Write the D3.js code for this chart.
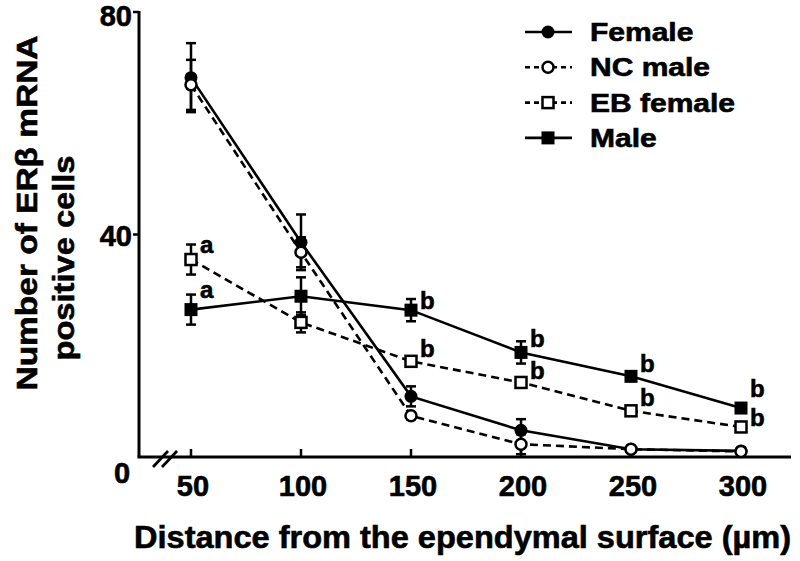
<!DOCTYPE html>
<html>
<head>
<meta charset="utf-8">
<script src="https://cdn.jsdelivr.net/npm/d3@7"></script>
<style>
  html, body { margin: 0; padding: 0; background: #fff; }
  svg { display: block; }
  text { font-family: "Liberation Sans", Arial, Helvetica, sans-serif; font-weight: bold; fill: #000; stroke: #000; stroke-width: 0.6px; }
</style>
</head>
<body>
<svg id="chart" width="800" height="561"></svg>
<script>
// ---- data ----
const distances = [50, 100, 150, 200, 250, 300];
const xTickLabels = ["50", "100", "150", "200", "250", "300"];
const yTicks = [0, 40, 80];

const femaleMean  = [68.2, 38.6, 10.9, 4.8, 1.4, 1.1];
const femaleErr   = [6.2, 5.0, 1.8, 2.0, 0.4, 0.4];
const ncMaleMean  = [66.9, 36.8, 7.4, 2.3, 1.4, 1.0];
const ncMaleErr   = [4.5, 2.7, 0.6, 1.8, 0.3, 0.3];
const ebFemaleMean = [35.5, 24.2, 17.2, 13.4, 8.3, 5.4];
const ebFemaleErr  = [2.7, 1.8, 0.8, 0.8, 0.5, 0.5];
const maleMean    = [26.5, 28.9, 26.4, 18.8, 14.5, 8.8];
const maleErr     = [2.7, 3.4, 2.0, 2.0, 0.6, 0.6];

const seriesNames = ["Female", "NC male", "EB female", "Male"];
// significance letters: [series index, point index, letter]
const letters = [
  [2, 0, "a"], [3, 0, "a"],
  [3, 2, "b"], [2, 2, "b"],
  [3, 3, "b"], [2, 3, "b"],
  [3, 4, "b"], [2, 4, "b"],
  [3, 5, "b"], [2, 5, "b"]
];

const series = [
  { name: seriesNames[0], mean: femaleMean,   err: femaleErr,   shape: "circle", filled: true,  dashed: false },
  { name: seriesNames[1], mean: ncMaleMean,   err: ncMaleErr,   shape: "circle", filled: false, dashed: true  },
  { name: seriesNames[2], mean: ebFemaleMean, err: ebFemaleErr, shape: "square", filled: false, dashed: true  },
  { name: seriesNames[3], mean: maleMean,     err: maleErr,     shape: "square", filled: true,  dashed: false }
];

// ---- layout ----
const svg = d3.select("#chart");
const x = d3.scaleLinear().domain([50, 300]).range([191, 741]);
const y = d3.scaleLinear().domain([0, 80]).range([457, 12]);
const axisX0 = 139, axisXEnd = 791;
const LW = 2.6;
const dash = "8,5";
// per-letter vertical nudges (layout only)
const letterDy = { "2-0": -7, "3-0": -12, "3-2": -1, "2-2": -4, "3-3": -5, "2-3": -3, "3-4": -4, "2-4": -5, "3-5": -11, "2-5": -1 };

// axes
const g = svg.append("g");
g.append("line").attr("x1", axisX0).attr("x2", axisX0).attr("y1", y(80) - 1).attr("y2", y(0))
  .attr("stroke", "#000").attr("stroke-width", 3);
g.append("line").attr("x1", axisX0 - 1.5).attr("x2", axisXEnd).attr("y1", y(0)).attr("y2", y(0))
  .attr("stroke", "#000").attr("stroke-width", 3);

// y ticks (outward) and labels
yTicks.filter(d => d > 0).forEach(t => {
  g.append("line").attr("x1", axisX0 - 6).attr("x2", axisX0).attr("y1", y(t)).attr("y2", y(t))
    .attr("stroke", "#000").attr("stroke-width", 2.5);
  g.append("text").attr("x", axisX0 - 7).attr("y", Math.max(y(t) + 11.5, 26)).attr("text-anchor", "end")
    .attr("font-size", 29).text(String(t));
});
g.append("text").attr("x", 122).attr("y", 483).attr("text-anchor", "middle")
  .attr("font-size", 29).text(String(yTicks[0]));

// x ticks (inward) and labels
distances.forEach((d, i) => {
  g.append("line").attr("x1", x(d)).attr("x2", x(d)).attr("y1", y(0)).attr("y2", y(0) - 8)
    .attr("stroke", "#000").attr("stroke-width", 2.5);
  g.append("text").attr("x", x(d) + 2).attr("y", 496).attr("text-anchor", "middle")
    .attr("font-size", 29).text(xTickLabels[i]);
});

// axis break marks
[0, 9].forEach(o => {
  g.append("line").attr("x1", 153 + o).attr("y1", 467).attr("x2", 168 + o).attr("y2", 451)
    .attr("stroke", "#000").attr("stroke-width", 2.8);
});

// axis titles
g.append("text").attr("x", 134).attr("y", 548).attr("font-size", 31)
  .attr("textLength", 657).attr("lengthAdjust", "spacingAndGlyphs")
  .text("Distance from the ependymal surface (\u00B5m)");
g.append("text").attr("transform", "translate(37,213) rotate(-90)").attr("text-anchor", "middle")
  .attr("font-size", 30).attr("textLength", 355).attr("lengthAdjust", "spacingAndGlyphs")
  .text("Number of ER\u03B2 mRNA");
g.append("text").attr("transform", "translate(74,258) rotate(-90)").attr("text-anchor", "middle")
  .attr("font-size", 30).attr("textLength", 205).attr("lengthAdjust", "spacingAndGlyphs")
  .text("positive cells");

// lines
const line = d3.line().x((d, i) => x(distances[i])).y(d => y(d));
series.forEach(s => {
  svg.append("path").attr("d", line(s.mean)).attr("fill", "none")
    .attr("stroke", "#000").attr("stroke-width", LW)
    .attr("stroke-dasharray", s.dashed ? dash : null);
});

// error bars
series.forEach(s => {
  s.mean.forEach((m, i) => {
    const cx = x(distances[i]);
    const eb = svg.append("g");
    eb.append("line").attr("x1", cx).attr("x2", cx).attr("y1", y(m + s.err[i])).attr("y2", y(m - s.err[i]))
      .attr("stroke", "#000").attr("stroke-width", 2.5);
    [m + s.err[i], m - s.err[i]].forEach(v => {
      eb.append("line").attr("x1", cx - 5).attr("x2", cx + 5).attr("y1", y(v)).attr("y2", y(v))
        .attr("stroke", "#000").attr("stroke-width", 2.5);
    });
  });
});

// markers
function drawMarker(sel, s, cx, cy) {
  if (s.shape === "circle") {
    sel.append("circle").attr("cx", cx).attr("cy", cy).attr("r", s.filled ? 6.5 : 5.5)
      .attr("fill", s.filled ? "#000" : "#fff").attr("stroke", "#000").attr("stroke-width", s.filled ? 0 : 2.5);
  } else {
    const h = s.filled ? 6.5 : 5.5;
    sel.append("rect").attr("x", cx - h).attr("y", cy - h).attr("width", 2 * h).attr("height", 2 * h)
      .attr("fill", s.filled ? "#000" : "#fff").attr("stroke", "#000").attr("stroke-width", s.filled ? 0 : 2.5);
  }
}
series.forEach(s => {
  s.mean.forEach((m, i) => drawMarker(svg, s, x(distances[i]), y(m)));
});

// significance letters
letters.forEach(([si, pi, l]) => {
  const s = series[si];
  const dy = letterDy[si + "-" + pi] || -5;
  svg.append("text").attr("x", x(distances[pi]) + 9).attr("y", y(s.mean[pi]) + dy)
    .attr("font-size", 24).text(l);
});

// legend
const legY0 = 32, legStep = 35.3;
series.forEach((s, i) => {
  const ly = legY0 + i * legStep;
  svg.append("line").attr("x1", 525).attr("x2", 572).attr("y1", ly).attr("y2", ly)
    .attr("stroke", "#000").attr("stroke-width", LW).attr("stroke-dasharray", s.dashed ? "5,4" : null);
  drawMarker(svg, s, 548, ly);
  svg.append("text").attr("x", 590).attr("y", ly + 9).attr("font-size", 25)
    .attr("transform", `translate(590,0) scale(1.2,1) translate(-590,0)`)
    .text(s.name);
});
</script>
</body>
</html>
